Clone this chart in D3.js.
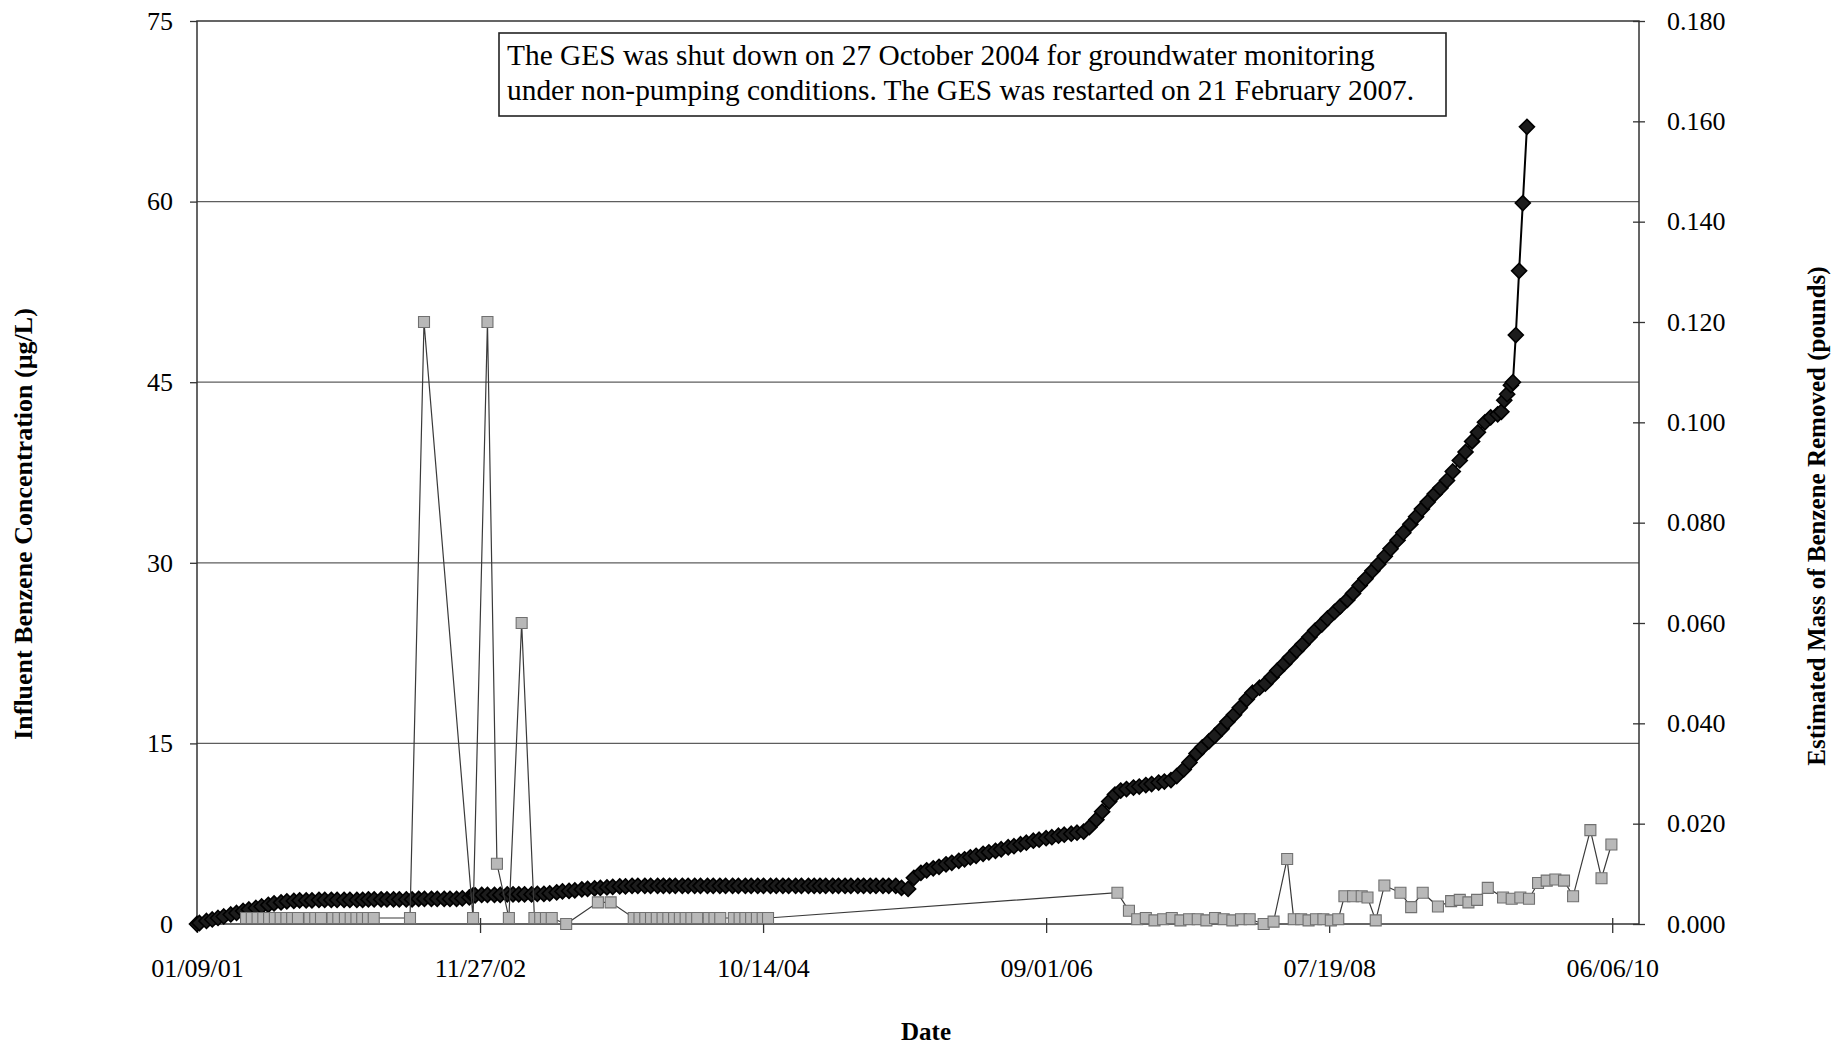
<!DOCTYPE html>
<html><head><meta charset="utf-8">
<script src="https://cdn.jsdelivr.net/npm/d3@7"></script>
<style>
html,body{margin:0;padding:0;background:#fff;}
svg{display:block;}
text{font-family:"Liberation Serif","Times New Roman",serif;fill:#000;}
</style></head><body>
<svg id="chart" width="1831" height="1044"></svg>
<script>
// ---------------- data ----------------
const xDomain = ["2001-01-09", "2010-08-10"];
const xTickLabels = ["01/09/01", "11/27/02", "10/14/04", "09/01/06", "07/19/08", "06/06/10"];
const leftTicks = [0, 15, 30, 45, 60, 75];
const leftGrid = [15, 30, 45, 60];
const rightTicks = [0, 0.02, 0.04, 0.06, 0.08, 0.10, 0.12, 0.14, 0.16, 0.18];
const leftTitle = "Influent Benzene Concentration (\u00b5g/L)";
const rightTitle = "Estimated Mass of Benzene Removed (pounds)";
const xTitle = "Date";
const noteLines = [
  "The GES was shut down on 27 October 2004 for groundwater monitoring",
  "under non-pumping conditions. The GES was restarted on 21 February 2007."
];

// Influent benzene concentration (ug/L), left axis
const influentUgL = [
  ["2001-05-08",0.5],["2001-05-22",0.5],["2001-06-05",0.5],["2001-06-19",0.5],["2001-07-03",0.5],
  ["2001-07-17",0.5],["2001-07-31",0.5],["2001-08-14",0.5],["2001-08-28",0.5],["2001-09-11",0.5],
  ["2001-10-09",0.5],["2001-10-23",0.5],["2001-11-06",0.5],
  ["2001-12-04",0.5],["2001-12-18",0.5],["2002-01-03",0.5],["2002-01-17",0.5],["2002-01-31",0.5],
  ["2002-02-14",0.5],["2002-02-28",0.5],["2002-03-14",0.5],
  ["2002-06-10",0.5],["2002-07-14",50],["2002-11-10",0.5],["2002-12-15",50],["2003-01-07",5],
  ["2003-02-05",0.5],["2003-03-08",25],
  ["2003-04-08",0.5],["2003-04-22",0.5],["2003-05-06",0.5],["2003-05-20",0.5],
  ["2003-06-24",0],["2003-09-09",1.8],["2003-10-10",1.8],
  ["2003-12-05",0.5],["2003-12-19",0.5],["2004-01-02",0.5],["2004-01-16",0.5],["2004-01-30",0.5],
  ["2004-02-13",0.5],["2004-02-27",0.5],["2004-03-12",0.5],["2004-03-26",0.5],["2004-04-09",0.5],
  ["2004-04-23",0.5],["2004-05-07",0.5],
  ["2004-06-04",0.5],["2004-06-18",0.5],["2004-07-02",0.5],
  ["2004-08-04",0.5],["2004-08-18",0.5],["2004-09-01",0.5],["2004-09-15",0.5],["2004-09-29",0.5],
  ["2004-10-13",0.5],["2004-10-26",0.5],
  ["2007-02-21",2.6],["2007-03-21",1.1],
  ["2007-04-10",0.4],["2007-05-01",0.5],["2007-05-22",0.3],["2007-06-12",0.4],["2007-07-03",0.5],
  ["2007-07-24",0.3],["2007-08-14",0.4],["2007-09-04",0.4],["2007-09-25",0.3],["2007-10-16",0.5],
  ["2007-11-06",0.4],["2007-11-27",0.3],["2007-12-18",0.4],["2008-01-08",0.4],
  ["2008-02-11",0.0],["2008-03-06",0.2],["2008-04-08",5.4],
  ["2008-04-24",0.4],["2008-05-12",0.4],["2008-05-30",0.3],["2008-06-17",0.4],["2008-07-05",0.4],
  ["2008-07-23",0.3],["2008-08-10",0.4],
  ["2008-08-25",2.3],["2008-09-15",2.3],["2008-10-06",2.3],["2008-10-20",2.2],
  ["2008-11-09",0.3],["2008-11-30",3.2],["2009-01-08",2.6],["2009-02-03",1.4],["2009-03-03",2.6],
  ["2009-04-09",1.45],["2009-05-11",1.9],["2009-06-01",2.0],["2009-06-22",1.8],["2009-07-13",2.0],
  ["2009-08-08",3.0],["2009-09-14",2.2],["2009-10-05",2.1],["2009-10-26",2.2],["2009-11-16",2.1],
  ["2009-12-08",3.4],["2009-12-29",3.6],["2010-01-19",3.7],["2010-02-09",3.6],
  ["2010-03-03",2.3],["2010-04-14",7.8],["2010-05-11",3.8],["2010-06-04",6.6]
];

// Estimated cumulative mass of benzene removed (pounds), right axis
const massRemovedLbs = [
  ["2001-01-09",0.0000],["2001-01-15",0.0002],["2001-02-01",0.0006],["2001-02-15",0.0009],
  ["2001-03-01",0.0012],["2001-03-15",0.0015],["2001-04-01",0.0019],["2001-04-15",0.0022],
  ["2001-05-01",0.0026],["2001-05-15",0.0029],["2001-06-01",0.0032],["2001-06-15",0.0035],
  ["2001-07-01",0.0038],["2001-07-15",0.0041],["2001-08-01",0.0043],["2001-08-15",0.0045],
  ["2001-09-01",0.0046],["2001-09-15",0.0047],["2001-10-01",0.0047],["2001-10-15",0.0047],
  ["2001-11-01",0.0048],["2001-11-15",0.0048],["2001-12-01",0.0048],["2001-12-15",0.0048],
  ["2002-01-01",0.0048],["2002-01-15",0.0048],["2002-02-01",0.0048],["2002-02-15",0.0048],
  ["2002-03-01",0.0049],["2002-03-15",0.0049],["2002-04-01",0.0049],["2002-04-15",0.0049],
  ["2002-05-01",0.0049],["2002-05-15",0.0049],["2002-06-01",0.0049],["2002-06-15",0.0049],
  ["2002-07-01",0.0050],["2002-07-15",0.0050],["2002-08-01",0.0050],["2002-08-15",0.0050],
  ["2002-09-01",0.0050],["2002-09-15",0.0050],["2002-10-01",0.0050],["2002-10-15",0.0051],
  ["2002-11-01",0.0053],["2002-11-10",0.0057],["2002-11-15",0.0057],["2002-12-01",0.0058],
  ["2002-12-15",0.0058],
  ["2003-01-01",0.0058],["2003-01-15",0.0058],["2003-02-01",0.0059],["2003-02-15",0.0059],
  ["2003-03-01",0.0059],["2003-03-15",0.0059],["2003-04-01",0.0059],["2003-04-15",0.0060],
  ["2003-05-01",0.0060],["2003-05-15",0.0061],["2003-06-01",0.0063],["2003-06-15",0.0065],
  ["2003-07-01",0.0066],["2003-07-15",0.0067],["2003-08-01",0.0069],["2003-08-15",0.0070],
  ["2003-09-01",0.0071],["2003-09-15",0.0072],["2003-10-01",0.0073],["2003-10-15",0.0074],
  ["2003-11-01",0.0075],["2003-11-15",0.0075],["2003-12-01",0.0076],["2003-12-15",0.0076],
  ["2004-01-01",0.0076],["2004-01-15",0.0076],["2004-02-01",0.0076],["2004-02-15",0.0076],
  ["2004-03-01",0.0076],["2004-03-15",0.0076],["2004-04-01",0.0076],["2004-04-15",0.0076],
  ["2004-05-01",0.0076],["2004-05-15",0.0076],["2004-06-01",0.0076],["2004-06-15",0.0076],
  ["2004-07-01",0.0076],["2004-07-15",0.0076],["2004-08-01",0.0076],["2004-08-15",0.0076],
  ["2004-09-01",0.0076],["2004-09-15",0.0076],["2004-10-01",0.0076],["2004-10-15",0.0076],
  ["2004-11-01",0.0076],["2004-11-15",0.0076],["2004-12-01",0.0076],["2004-12-15",0.0076],
  ["2005-01-01",0.0076],["2005-01-15",0.0076],["2005-02-01",0.0076],["2005-02-15",0.0076],
  ["2005-03-01",0.0076],["2005-03-15",0.0076],["2005-04-01",0.0076],["2005-04-15",0.0076],
  ["2005-05-01",0.0076],["2005-05-15",0.0076],["2005-06-01",0.0076],["2005-06-15",0.0076],
  ["2005-07-01",0.0076],["2005-07-15",0.0076],["2005-08-01",0.0076],["2005-08-15",0.0076],
  ["2005-09-01",0.0076],["2005-09-15",0.0072],["2005-10-01",0.0070],["2005-10-15",0.0092],
  ["2005-11-01",0.0102],["2005-11-15",0.0107],["2005-12-01",0.0111],["2005-12-15",0.0114],
  ["2006-01-01",0.0119],["2006-01-15",0.0122],["2006-02-01",0.0126],["2006-02-15",0.0129],
  ["2006-03-01",0.0133],["2006-03-15",0.0136],["2006-04-01",0.0140],["2006-04-15",0.0143],
  ["2006-05-01",0.0146],["2006-05-15",0.0149],["2006-06-01",0.0153],["2006-06-15",0.0155],
  ["2006-07-01",0.0159],["2006-07-15",0.0162],["2006-08-01",0.0166],["2006-08-15",0.0168],
  ["2006-09-01",0.0171],["2006-09-15",0.0173],["2006-10-01",0.0176],["2006-10-15",0.0178],
  ["2006-11-01",0.0180],["2006-11-15",0.0182],["2006-12-01",0.0184],["2006-12-15",0.0193],
  ["2007-01-01",0.0208],["2007-01-15",0.0224],["2007-02-01",0.0244],["2007-02-15",0.0258],
  ["2007-03-01",0.0266],["2007-03-15",0.0269],["2007-04-01",0.0272],["2007-04-15",0.0274],
  ["2007-05-01",0.0277],["2007-05-15",0.0279],["2007-06-01",0.0282],["2007-06-15",0.0284],
  ["2007-07-01",0.0287],["2007-07-15",0.0295],["2007-08-01",0.0308],["2007-08-15",0.0322],
  ["2007-09-01",0.0340],["2007-09-15",0.0352],["2007-10-01",0.0364],["2007-10-15",0.0375],
  ["2007-11-01",0.0389],["2007-11-15",0.0403],["2007-12-01",0.0417],["2007-12-15",0.0431],
  ["2008-01-01",0.0448],["2008-01-15",0.0461],["2008-02-01",0.0471],["2008-02-15",0.0479],
  ["2008-03-01",0.0492],["2008-03-15",0.0505],["2008-04-01",0.0519],["2008-04-15",0.0531],
  ["2008-05-01",0.0545],["2008-05-15",0.0557],["2008-06-01",0.0572],["2008-06-15",0.0585],
  ["2008-07-01",0.0597],["2008-07-15",0.0609],["2008-08-01",0.0622],["2008-08-15",0.0633],
  ["2008-09-01",0.0646],["2008-09-15",0.0659],["2008-10-01",0.0675],["2008-10-15",0.0688],
  ["2008-11-01",0.0704],["2008-11-15",0.0717],["2008-12-01",0.0733],["2008-12-15",0.0748],
  ["2009-01-01",0.0765],["2009-01-15",0.0780],["2009-02-01",0.0797],["2009-02-15",0.0812],
  ["2009-03-01",0.0827],["2009-03-15",0.0841],["2009-04-01",0.0857],["2009-04-15",0.0869],
  ["2009-05-01",0.0884],["2009-05-15",0.0902],["2009-06-01",0.0924],["2009-06-15",0.0941],
  ["2009-07-01",0.0962],["2009-07-15",0.0980],["2009-08-01",0.1000],["2009-08-15",0.1010],
  ["2009-09-01",0.1016],["2009-09-10",0.1021],["2009-09-17",0.1044],["2009-09-24",0.1056],
  ["2009-10-03",0.1074],["2009-10-08",0.1080],["2009-10-15",0.1174],["2009-10-23",0.1302],
  ["2009-11-01",0.1437],["2009-11-11",0.1589]
];

// ---------------- chart ----------------
const svg = d3.select("#chart");
const parse = d3.utcParse("%Y-%m-%d");
const parseTick = d3.utcParse("%m/%d/%y");
const plot = {left: 197, right: 1639, top: 21, bottom: 924};

const x = d3.scaleUtc().domain(xDomain.map(parse)).range([plot.left, plot.right]);
const yL = d3.scaleLinear().domain([0, 75]).range([plot.bottom, plot.top]);
const yR = d3.scaleLinear().domain([0, 0.18]).range([plot.bottom, plot.top]);

// gridlines
svg.append("g").selectAll("line").data(leftGrid).join("line")
  .attr("x1", plot.left).attr("x2", plot.right)
  .attr("y1", d => yL(d)).attr("y2", d => yL(d))
  .attr("stroke", "#5e5e5e").attr("stroke-width", 1.2);

// frame
svg.append("rect").attr("x", plot.left).attr("y", plot.top)
  .attr("width", plot.right - plot.left).attr("height", plot.bottom - plot.top)
  .attr("fill", "none").attr("stroke", "#333").attr("stroke-width", 1.5);

// axes
const fs = 26;
const gL = svg.append("g").attr("transform", `translate(${plot.left},0)`)
  .call(d3.axisLeft(yL).tickValues(leftTicks).tickSize(7).tickPadding(17).tickFormat(d3.format("d")));
const gR = svg.append("g").attr("transform", `translate(${plot.right},0)`)
  .call(d3.axisRight(yR).tickValues(rightTicks).tickSize(6).tickPadding(22).tickFormat(d3.format(".3f")));
gR.selectAll(".tick line").attr("x1", -6).attr("x2", 6);
const gB = svg.append("g").attr("transform", `translate(0,${plot.bottom})`)
  .call(d3.axisBottom(x).tickValues(xTickLabels.map(parseTick))
    .tickFormat(d3.utcFormat("%m/%d/%y")).tickSize(8).tickPadding(27));
gB.selectAll(".tick line").attr("y1", -6).attr("y2", 9);
[gL, gR, gB].forEach(g => {
  g.select(".domain").remove();
  g.selectAll(".tick line").attr("stroke", "#333").attr("stroke-width", 1.3);
  g.selectAll("text").attr("font-size", fs).attr("font-family", '"Liberation Serif", serif').attr("fill", "#111");
});

// mass removed series (right axis)
const massPts = massRemovedLbs.map(d => ({t: parse(d[0]), v: d[1]}));
svg.append("path").datum(massPts)
  .attr("fill", "none").attr("stroke", "#000").attr("stroke-width", 2)
  .attr("d", d3.line().x(d => x(d.t)).y(d => yR(d.v)));
const h = 7.5;
svg.append("g").selectAll("path").data(massPts).join("path")
  .attr("transform", d => `translate(${x(d.t)},${yR(d.v)})`)
  .attr("d", `M0,${-h}L${h},0L0,${h}L${-h},0Z`)
  .attr("fill", "#1c1c1c").attr("stroke", "#000").attr("stroke-width", 1.6);

// influent series (left axis)
const infPts = influentUgL.map(d => ({t: parse(d[0]), v: d[1]}));
svg.append("path").datum(infPts)
  .attr("fill", "none").attr("stroke", "#3a3a3a").attr("stroke-width", 1.2)
  .attr("d", d3.line().x(d => x(d.t)).y(d => yL(d.v)));
svg.append("g").selectAll("path").data(infPts).join("path")
  .attr("transform", d => `translate(${x(d.t)},${yL(d.v)})`)
  .attr("d", d3.symbol().type(d3.symbolSquare).size(121))
  .attr("fill", "#b8b8b8").attr("stroke", "#707070").attr("stroke-width", 1.1);

// annotation box
svg.append("rect").attr("x", 499).attr("y", 33).attr("width", 947).attr("height", 83)
  .attr("fill", "#fff").attr("stroke", "#222").attr("stroke-width", 1.6);
svg.append("g").selectAll("text").data(noteLines).join("text")
  .attr("x", 507).attr("y", (d, i) => 65 + i * 35)
  .attr("font-size", 29.4).text(d => d);

// axis titles
svg.append("text").attr("transform", "translate(23,524) rotate(-90)")
  .attr("text-anchor", "middle").attr("dy", "0.35em")
  .attr("font-size", 26).attr("font-weight", "bold").text(leftTitle);
svg.append("text").attr("transform", "translate(1816,516) rotate(-90)")
  .attr("text-anchor", "middle").attr("dy", "0.35em")
  .attr("font-size", 25).attr("font-weight", "bold").text(rightTitle);
svg.append("text").attr("x", 926).attr("y", 1040)
  .attr("text-anchor", "middle")
  .attr("font-size", 25).attr("font-weight", "bold").text(xTitle);
</script>
</body></html>
